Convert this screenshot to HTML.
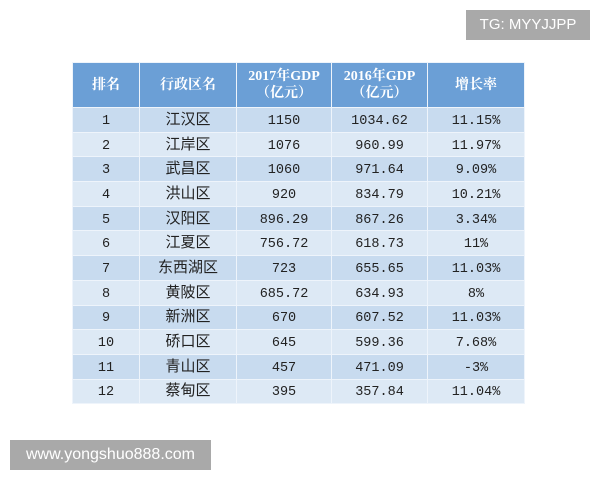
<!DOCTYPE html>
<html><head><meta charset="utf-8"><style>
body{margin:0;width:600px;height:480px;background:#fff;position:relative;overflow:hidden;font-family:"Liberation Serif","Noto Serif CJK SC",serif;}
table{position:absolute;left:72px;top:62px;width:452px;border-collapse:collapse;table-layout:fixed;}
td,th{border:1px solid #eef4fb;text-align:center;padding:0;color:#222;font-size:13px;font-weight:normal;vertical-align:middle;}
th{background:#6b9fd6;color:#fff;height:44px;font-weight:bold;font-size:14px;line-height:17px;font-family:"Liberation Serif","Noto Serif CJK SC",serif;}
td{height:23.7px;line-height:18px;font-family:"Liberation Mono",monospace;font-size:13.5px;}
td span{position:relative;top:2px;}
td.n{font-family:"Noto Sans CJK SC",sans-serif;font-size:15px;line-height:18px;}
td.n span{top:-1px;}
tr:nth-child(even) td{background:#c8dbef;}
tr:nth-child(odd) td{background:#dde9f5;}
.tg{position:absolute;left:466px;top:10px;width:124px;height:30px;background:#a9a9a9;color:#fff;font:15px "Liberation Sans",sans-serif;line-height:30px;text-align:center;}
.wm{position:absolute;left:10px;top:440px;width:201px;height:30px;background:#a9a9a9;color:#fff;font:16px "Liberation Sans",sans-serif;line-height:30px;text-align:center;}
</style></head><body>
<div class="tg">TG: MYYJJPP</div>
<table>
<colgroup><col style="width:67px"><col style="width:97px"><col style="width:95px"><col style="width:96px"><col style="width:97px"></colgroup>
<tr><th>排名</th><th>行政区名</th><th>2017年GDP<br>（亿元）</th><th>2016年GDP<br>（亿元）</th><th>增长率</th></tr>
<tr><td><span>1</span></td><td class="n"><span>江汉区</span></td><td><span>1150</span></td><td><span>1034.62</span></td><td><span>11.15%</span></td></tr>
<tr><td><span>2</span></td><td class="n"><span>江岸区</span></td><td><span>1076</span></td><td><span>960.99</span></td><td><span>11.97%</span></td></tr>
<tr><td><span>3</span></td><td class="n"><span>武昌区</span></td><td><span>1060</span></td><td><span>971.64</span></td><td><span>9.09%</span></td></tr>
<tr><td><span>4</span></td><td class="n"><span>洪山区</span></td><td><span>920</span></td><td><span>834.79</span></td><td><span>10.21%</span></td></tr>
<tr><td><span>5</span></td><td class="n"><span>汉阳区</span></td><td><span>896.29</span></td><td><span>867.26</span></td><td><span>3.34%</span></td></tr>
<tr><td><span>6</span></td><td class="n"><span>江夏区</span></td><td><span>756.72</span></td><td><span>618.73</span></td><td><span>11%</span></td></tr>
<tr><td><span>7</span></td><td class="n"><span>东西湖区</span></td><td><span>723</span></td><td><span>655.65</span></td><td><span>11.03%</span></td></tr>
<tr><td><span>8</span></td><td class="n"><span>黄陂区</span></td><td><span>685.72</span></td><td><span>634.93</span></td><td><span>8%</span></td></tr>
<tr><td><span>9</span></td><td class="n"><span>新洲区</span></td><td><span>670</span></td><td><span>607.52</span></td><td><span>11.03%</span></td></tr>
<tr><td><span>10</span></td><td class="n"><span>硚口区</span></td><td><span>645</span></td><td><span>599.36</span></td><td><span>7.68%</span></td></tr>
<tr><td><span>11</span></td><td class="n"><span>青山区</span></td><td><span>457</span></td><td><span>471.09</span></td><td><span>-3%</span></td></tr>
<tr><td><span>12</span></td><td class="n"><span>蔡甸区</span></td><td><span>395</span></td><td><span>357.84</span></td><td><span>11.04%</span></td></tr>
</table>
<div class="wm">www.yongshuo888.com</div>
</body></html>
